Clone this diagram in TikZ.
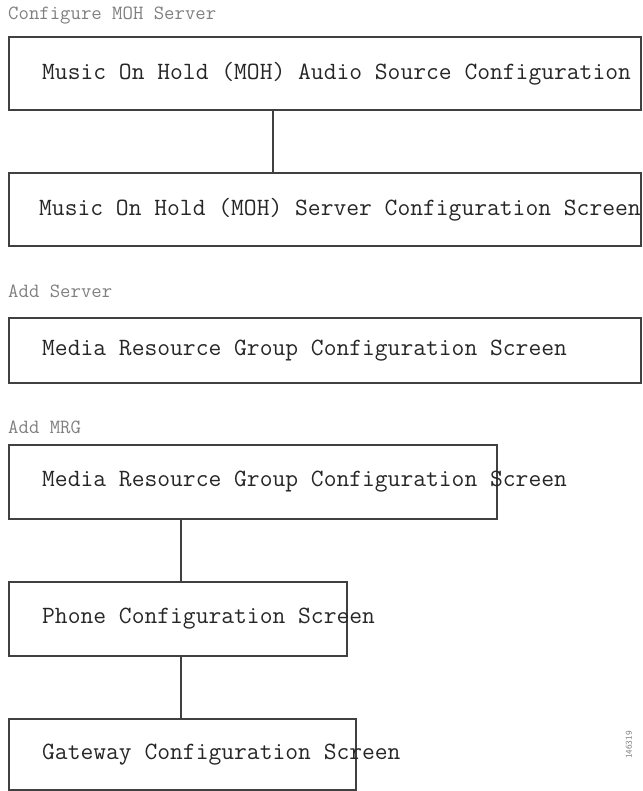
\documentclass[tikz,border=0pt]{standalone}
\usepackage{fontspec}
\usetikzlibrary{positioning}

\begin{document}
\begin{tikzpicture}[
    x=1pt, y=-1pt,
    screen/.style={draw=black!75, line width=2pt, anchor=north west, minimum height=73pt, inner sep=0pt},
    scrtext/.style={anchor=west, inner sep=0pt, text=black!85, font=\ttfamily\fontsize{24.85}{28}\selectfont},
    steplabel/.style={anchor=base west, inner sep=0pt, text=black!50, font=\ttfamily\fontsize{20.2}{22}\selectfont},
    link/.style={draw=black!75, line width=2pt}
]
    \useasboundingbox (0,0) rectangle (642,791);

    % Configure MOH Server
    \node[steplabel] (cfg) at (8,20) {Configure MOH Server};
    \node[screen, minimum width=632pt] (mohsrc) at (8,36) {};
    \node[scrtext] (mohsrc-t) at ([xshift=34pt]mohsrc.west) {Music On Hold (MOH) Audio Source Configuration};
    \node[screen, minimum width=632pt] (mohsrv) at (8,172) {};
    \node[scrtext] (mohsrv-t) at ([xshift=31pt]mohsrv.west) {Music On Hold (MOH) Server Configuration Screen};
    \draw[link] ([xshift=265pt]mohsrc.south west) -- ([xshift=265pt]mohsrv.north west);

    % Add Server
    \node[steplabel] (addsrv) at (8,297) {Add Server};
    \node[screen, minimum width=632pt, minimum height=65pt] (mrg1) at (8,317) {};
    \node[scrtext] (mrg1-t) at ([xshift=34pt]mrg1.west) {Media Resource Group Configuration Screen};

    % Add MRG
    \node[steplabel] (addmrg) at (8,433) {Add MRG};
    \node[screen, minimum width=488pt, minimum height=74pt] (mrg2) at (8,444) {};
    \node[scrtext] (mrg2-t) at ([xshift=34pt]mrg2.west) {Media Resource Group Configuration Screen};
    \node[screen, minimum width=338pt, minimum height=74pt] (phone) at (8,581) {};
    \node[scrtext] (phone-t) at ([xshift=34pt]phone.west) {Phone Configuration Screen};
    \node[screen, minimum width=347pt, minimum height=71pt] (gw) at (8,718) {};
    \node[scrtext] (gw-t) at ([xshift=34pt]gw.west) {Gateway Configuration Screen};
    \draw[link] ([xshift=173pt]mrg2.south west) -- ([xshift=173pt]phone.north west);
    \draw[link] ([xshift=173pt]phone.south west) -- ([xshift=173pt]gw.north west);

    % figure number
    \node[rotate=90, inner sep=0pt, text=black!50, font=\sffamily\fontsize{9}{10}\selectfont] (fignum) at (629,745) {146319};
\end{tikzpicture}
\end{document}
